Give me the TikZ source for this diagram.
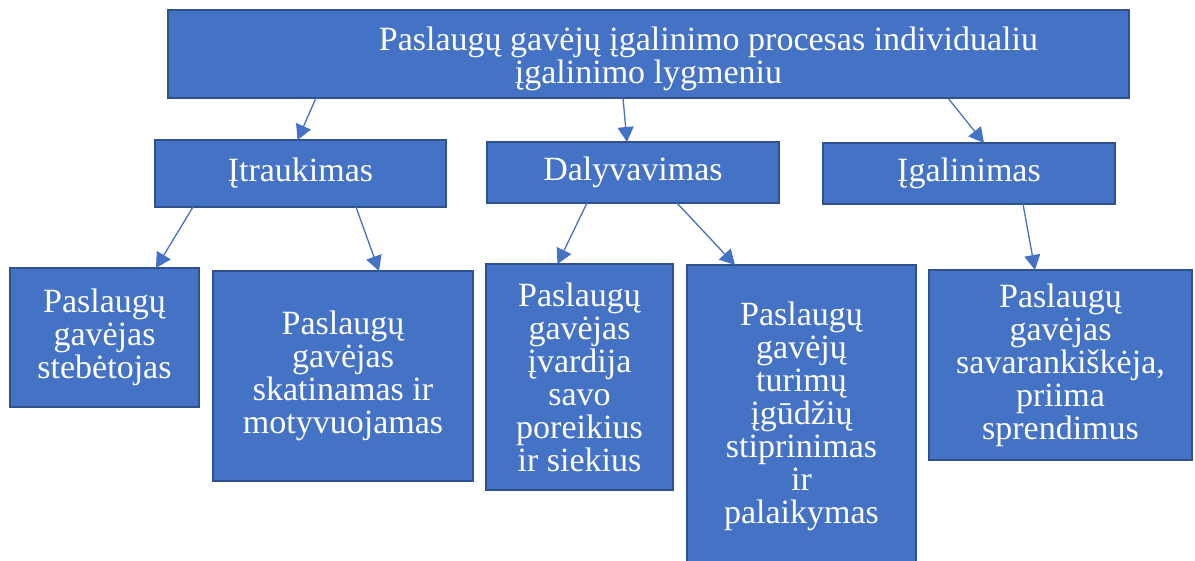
\documentclass[tikz,border=0pt]{standalone}
\usepackage{fontspec}
\setmainfont{Liberation Serif}
\usepackage{xcolor}
\usetikzlibrary{arrows.meta,positioning}
\definecolor{boxblue}{HTML}{4472C4}
\definecolor{boxedge}{HTML}{2F528F}
\tikzset{
	tree diagram/.style={
		x=1pt, y=-1pt,
		box/.style={draw=boxedge, fill=boxblue, line width=2.2pt,
			text=white, align=center, inner sep=0pt, outer sep=0pt,
			font=\fontsize{34}{33}\selectfont},
		ar/.style={draw=boxblue, line width=1.3pt,
			-{Triangle[length=15pt,width=16pt]}}
		},
	bw/.style={minimum width=#1},
	bh/.style={minimum height=#1}
}

\begin{document}
\begin{tikzpicture}[tree diagram]
      \useasboundingbox (0,0) rectangle (1195,560);
      % top level
      \node[box, bw=961, bh=88] (top) at (648.5,54)
          {\rule{0pt}{33pt}\hspace*{120pt}Paslaugų gavėjų įgalinimo procesas individualiu\\įgalinimo lygmeniu};
      % second level
      \node[box, bw=291, bh=67] (incl) at (300.5,173.5) {Įtraukimas};
      \node[box, bw=292, bh=61] (part) at (633,172.5) {Dalyvavimas};
      \node[box, bw=292, bh=61] (empw) at (969,173.5) {Įgalinimas};
      % third level
      \node[box, bw=189, bh=139] (obs) at (104.5,337.5) {Paslaugų\\gavėjas\\stebėtojas};
      \node[box, bw=260, bh=210] (motiv) at (343,376) {Paslaugų\\gavėjas\\skatinamas ir\\motyvuojamas};
      \node[box, bw=187, bh=226] (needs) at (579.5,377) {Paslaugų\\gavėjas\\įvardija\\savo\\poreikius\\ir siekius};
      \node[box, bw=229, bh=302] (skills) at (801.5,416) {Paslaugų\\gavėjų\\turimų\\įgūdžių\\stiprinimas\\ir\\palaikymas};
      \node[box, bw=263, bh=190] (indep) at (1060.5,365) {Paslaugų\\gavėjas\\savarankiškėja,\\priima\\sprendimus};
      \draw[ar] ([xshift=148]top.south west) -- ([xshift=-3]incl.north);
      \draw[ar] ([xshift=455]top.south west) -- ([xshift=-6]part.north);
      \draw[ar] ([xshift=780]top.south west) -- ([xshift=15]empw.north);
      \draw[ar] ([xshift=38]incl.south west) -- ([xshift=-43]obs.north east);
      \draw[ar] ([xshift=201]incl.south west) -- ([xshift=36]motiv.north);
      \draw[ar] ([xshift=100]part.south west) -- ([xshift=-22]needs.north);
      \draw[ar] ([xshift=190]part.south west) -- ([xshift=48]skills.north west);
      \draw[ar] ([xshift=200]empw.south west) -- ([xshift=106]indep.north west);
   \end{tikzpicture}
\end{document}
